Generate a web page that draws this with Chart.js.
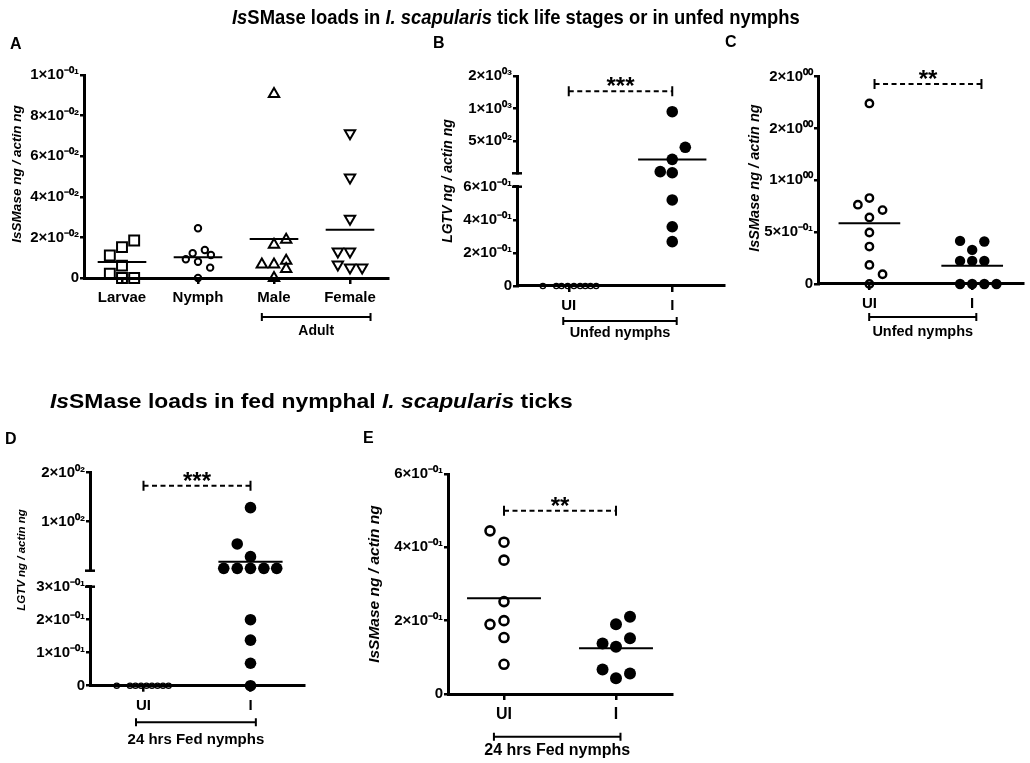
<!DOCTYPE html>
<html><head><meta charset="utf-8">
<script src="https://cdn.jsdelivr.net/npm/chart.js@4.4.0/dist/chart.umd.min.js"></script>
<style>
html,body{margin:0;padding:0;background:#fff;}
#page{position:relative;width:1030px;height:763px;overflow:hidden;background:#fff;font-family:'Liberation Sans',Arial,sans-serif;}
.layer{position:absolute;left:0;top:0;width:1030px;height:763px;}
.txt{position:absolute;white-space:nowrap;font-weight:bold;line-height:1;color:#000;transform-origin:0 0;}
</style></head><body>
<div id="page">
  <div class="layer"><canvas id="cA"></canvas></div>
  <div class="layer"><canvas id="cBlo"></canvas></div>
  <div class="layer"><canvas id="cBup"></canvas></div>
  <div class="layer"><canvas id="cC"></canvas></div>
  <div class="layer"><canvas id="cDlo"></canvas></div>
  <div class="layer"><canvas id="cDup"></canvas></div>
  <div class="layer"><canvas id="cE"></canvas></div>
  <div class="txt" id="t1" data-w="568" style="left:232px;top:6px;font-size:21px;font-family:'Liberation Sans Narrow','Liberation Sans',Arial;"><i>Is</i>SMase loads in <i>I. scapularis</i> tick life stages or in unfed nymphs</div>
  <div class="txt" id="t2" data-w="523" style="left:50px;top:390px;font-size:21px;"><i>Is</i>SMase loads in fed nymphal <i>I. scapularis</i> ticks</div>
  <div class="txt" style="left:10px;top:36px;font-size:16px;">A</div>
  <div class="txt" style="left:433px;top:35px;font-size:16px;">B</div>
  <div class="txt" style="left:725px;top:34px;font-size:16px;">C</div>
  <div class="txt" style="left:5px;top:431px;font-size:16px;">D</div>
  <div class="txt" style="left:363px;top:430px;font-size:16px;">E</div>
</div>
<script>
// ---------------- DATA ----------------
// Panel A
const aCategories = ['Larvae', 'Nymph', 'Male', 'Female'];
const aLarvae = [0.0111, 0.0152, 0.0185, 0.0021, 0.0061, 0, 0];
const aLarvaeJitter = [-0.16, 0, 0.16, -0.16, 0, 0, 0.16];
const aNymph = [0.0245, 0.0122, 0.0138, 0.0092, 0.008, 0.0113, 0.0051, 0];
const aNymphJitter = [0, -0.07, 0.09, -0.16, 0, 0.17, 0.16, 0];
const aMale = [0.0907, 0.0164, 0.0189, 0.0066, 0.0066, 0.0085, 0.0044, 0];
const aMaleJitter = [0, 0, 0.16, -0.16, 0, 0.16, 0.16, 0];
const aFemale = [0.0713, 0.0495, 0.0292, 0.0131, 0.0131, 0.0066, 0.0052, 0.0052];
const aFemaleJitter = [0, 0, 0, -0.16, 0, -0.16, 0, 0.16];
const aMeans = [0.0079, 0.0102, 0.0192, 0.0238];
const aRange = [0, 0.1];
const aTicks = [0, 0.02, 0.04, 0.06, 0.08, 0.1];
const aTickLabels = ['0', '2×10⁻⁰²', '4×10⁻⁰²', '6×10⁻⁰²', '8×10⁻⁰²', '1×10⁻⁰¹'];

// Panel B (broken axis: lower linear, upper logarithmic)
const bCategories = ['UI', 'I'];
const bUI = [0, 0, 0, 0, 0, 0, 0, 0, 0];
const bUIJitter = [-0.25, -0.12, -0.07, -0.01, 0.05, 0.11, 0.16, 0.21, 0.265];
const bI = [933, 436, 337, 259, 253, 0.52, 0.358, 0.268];
const bIJitter = [0, 0.126, 0, -0.116, 0, 0, 0, 0];
const bMeans = [null, 335];
const bLowerRange = [0, 0.6];
const bLowerTicks = [0, 0.2, 0.4, 0.6];
const bLowerLabels = ['0', '2×10⁻⁰¹', '4×10⁻⁰¹', '6×10⁻⁰¹'];
const bUpperRange = [250, 2000];
const bUpperTicks = [500, 1000, 2000];
const bUpperLabels = ['5×10⁰²', '1×10⁰³', '2×10⁰³'];

// Panel C
const cCategories = ['UI', 'I'];
const cUI = [1.742, 0.765, 0.829, 0.713, 0.642, 0.497, 0.361, 0.184, 0.094, 0];
const cUIJitter = [0, -0.112, 0, 0.128, 0, 0, 0, 0, 0.128, 0];
const cI = [0.416, 0.41, 0.329, 0.223, 0.223, 0.223, 0, 0, 0, 0];
const cIJitter = [-0.118, 0.118, 0, -0.118, 0, 0.118, -0.118, 0, 0.118, 0.236];
const cMeans = [0.587, 0.177];
const cRange = [0, 2];
const cTicks = [0, 0.5, 1, 1.5, 2];
const cTickLabels = ['0', '5×10⁻⁰¹', '1×10⁰⁰', '2×10⁰⁰', '2×10⁰⁰'];

// Panel D (broken axis)
const dCategories = ['UI', 'I'];
const dUI = [0, 0, 0, 0, 0, 0, 0, 0, 0];
const dUIJitter = [-0.25, -0.126, -0.075, -0.023, 0.028, 0.079, 0.131, 0.182, 0.234];
const dI = [122, 73, 61, 51.7, 51.7, 51.7, 51.7, 51.7, 0.2, 0.138, 0.068, 0];
const dIJitter = [0, -0.124, 0, -0.25, -0.124, 0, 0.125, 0.245, 0, 0, 0, 0];
const dMeans = [null, 56.8];
const dLowerRange = [0, 0.3];
const dLowerTicks = [0, 0.1, 0.2, 0.3];
const dLowerLabels = ['0', '1×10⁻⁰¹', '2×10⁻⁰¹', '3×10⁻⁰¹'];
const dUpperRange = [50, 200];
const dUpperTicks = [100, 200];
const dUpperLabels = ['1×10⁰²', '2×10⁰²'];

// Panel E
const eCategories = ['UI', 'I'];
const eUI = [0.445, 0.414, 0.365, 0.252, 0.19, 0.2, 0.154, 0.081];
const eUIJitter = [-0.125, 0, 0, 0, -0.125, 0, 0, 0];
const eI = [0.19, 0.211, 0.138, 0.129, 0.152, 0.067, 0.056, 0.043];
const eIJitter = [0, 0.125, -0.12, 0, 0.125, -0.12, 0.125, 0];
const eMeans = [0.261, 0.125];
const eRange = [0, 0.6];
const eTicks = [0, 0.2, 0.4, 0.6];
const eTickLabels = ['0', '2×10⁻⁰¹', '4×10⁻⁰¹', '6×10⁻⁰¹'];

// ---------------- RENDERING ----------------
const FONT = "'Liberation Sans', Arial, sans-serif";
const W = 1030, H = 763, YW = 70, XH = 45;
Chart.defaults.font.family = FONT;
Chart.defaults.color = '#000';
Chart.defaults.animation = false;

function pts(vals, jit, cat, keep) {
  const out = [];
  vals.forEach((v, i) => { if (!keep || keep(v)) out.push({x: cat + jit[i], y: v}); });
  return out;
}
function marker(style, r, bw, filled, rot) {
  return {
    pointStyle: style, pointRadius: r, pointBorderWidth: bw, pointBorderColor: '#000',
    pointBackgroundColor: filled ? '#000' : 'rgba(0,0,0,0)', pointRotation: rot || 0,
    showLine: false, clip: false
  };
}
function meanSets(means, hw, keep) {
  const out = [];
  means.forEach((m, i) => {
    if (m === null || (keep && !keep(m))) return;
    out.push({data: [{x: i + 1 - hw, y: m}, {x: i + 1 + hw, y: m}], showLine: true,
      borderColor: '#000', borderWidth: 2, pointRadius: 0, clip: false});
  });
  return out;
}
function yAxis(o) {
  return {
    type: o.type || 'linear', bounds: 'data', min: o.range[0], max: o.range[1], position: 'left',
    afterFit: s => { s.width = YW; },
    afterBuildTicks: s => { s.ticks = o.ticks.map(v => ({value: v})); },
    border: {display: true, color: '#000', width: 3},
    grid: {display: true, drawOnChartArea: false, drawTicks: true, tickLength: 4, tickWidth: 2.5, tickColor: '#000', color: '#000', lineWidth: 2.5},
    ticks: {autoSkip: false, padding: 1, color: '#000', font: {size: 15, weight: 'bold'}, callback: (v, i) => o.labels[i]}
  };
}
function xAxis(o) {
  return {
    type: 'linear', bounds: 'data', min: o.range[0], max: o.range[1], position: 'bottom', display: o.show,
    afterFit: s => { s.height = o.show ? XH : 0; },
    afterBuildTicks: s => { s.ticks = o.cats.map((c, i) => ({value: i + 1})); },
    border: {display: true, color: '#000', width: 3},
    grid: {display: true, drawOnChartArea: false, drawTicks: true, tickLength: 6, tickWidth: 2.5, tickColor: '#000', color: '#000', lineWidth: 2.5},
    ticks: {autoSkip: false, maxRotation: 0, minRotation: 0, padding: 5, color: '#000', font: {size: o.size || 15, weight: 'bold'}, callback: (v, i) => o.cats[i]}
  };
}
function decor(d) {
  return {
    id: 'decor',
    afterDraw(chart) {
      const ctx = chart.ctx, xs = chart.scales.x, ys = chart.scales.y, ca = chart.chartArea;
      ctx.save();
      ctx.fillStyle = '#000'; ctx.strokeStyle = '#000';
      if (d.sig) {
        const x1 = xs.getPixelForValue(d.sig.from), x2 = xs.getPixelForValue(d.sig.to), y = ys.getPixelForValue(d.sig.y);
        ctx.lineWidth = 2; ctx.setLineDash([5, 3.5]);
        ctx.beginPath(); ctx.moveTo(x1, y); ctx.lineTo(x2, y); ctx.stroke();
        ctx.setLineDash([]);
        ctx.beginPath(); ctx.moveTo(x1, y - 5); ctx.lineTo(x1, y + 5); ctx.moveTo(x2, y - 5); ctx.lineTo(x2, y + 5); ctx.stroke();
        ctx.font = 'bold 24px ' + FONT; ctx.textAlign = 'center'; ctx.textBaseline = 'alphabetic';
        ctx.fillText(d.sig.text, (x1 + x2) / 2, y + 3);
      }
      (d.groups || []).forEach(g => {
        const x1 = xs.getPixelForValue(g.from), x2 = xs.getPixelForValue(g.to), y = ca.bottom + g.dy;
        ctx.lineWidth = 2;
        ctx.beginPath(); ctx.moveTo(x1, y); ctx.lineTo(x2, y);
        ctx.moveTo(x1, y - 4); ctx.lineTo(x1, y + 4); ctx.moveTo(x2, y - 4); ctx.lineTo(x2, y + 4); ctx.stroke();
        ctx.font = 'bold ' + g.size + 'px ' + FONT; ctx.textAlign = 'center'; ctx.textBaseline = 'middle';
        ctx.fillText(g.text, (x1 + x2) / 2, y + g.ty);
      });
      if (d.title) {
        ctx.save();
        ctx.translate(d.title.x, d.title.y); ctx.rotate(-Math.PI / 2);
        ctx.font = 'italic bold ' + d.title.size + 'px ' + FONT; ctx.textAlign = 'center'; ctx.textBaseline = 'middle';
        ctx.fillText(d.title.text, 0, 0);
        ctx.restore();
      }
      if (d.breakCap) {
        const y = d.breakCap === 'bottom' ? ca.bottom : ca.top;
        ctx.lineWidth = 2.5;
        ctx.beginPath(); ctx.moveTo(ca.left - 5, y); ctx.lineTo(ca.left + 5, y); ctx.stroke();
      }
      ctx.restore();
    }
  };
}
function makeChart(id, o) {
  const pad = {left: o.area.l - YW, top: o.area.t, right: W - o.area.r, bottom: H - o.area.b - (o.showX ? XH : 0)};
  return new Chart(document.getElementById(id), {
    type: 'scatter',
    data: {datasets: o.datasets},
    options: {
      responsive: true, maintainAspectRatio: false, animation: false, events: [],
      layout: {padding: pad},
      plugins: {legend: {display: false}, tooltip: {enabled: false}},
      scales: {
        x: xAxis({range: o.xRange, cats: o.cats, show: o.showX, size: o.xSize}),
        y: yAxis(o.y)
      }
    },
    plugins: [decor(o.decor || {})]
  });
}

// Panel A
makeChart('cA', {
  area: {l: 84, t: 75, r: 388, b: 278}, showX: true, xRange: [0.5, 4.5], cats: aCategories,
  y: {range: aRange, ticks: aTicks, labels: aTickLabels},
  datasets: [
    Object.assign({data: pts(aLarvae, aLarvaeJitter, 1)}, marker('rect', 7, 2, false)),
    Object.assign({data: pts(aNymph, aNymphJitter, 2)}, marker('circle', 3.2, 2, false)),
    Object.assign({data: pts(aMale, aMaleJitter, 3)}, marker('triangle', 6, 2, false)),
    Object.assign({data: pts(aFemale, aFemaleJitter, 4)}, marker('triangle', 6, 2, false, 180))
  ].concat(meanSets(aMeans, 0.32)),
  decor: {
    groups: [{from: 2.84, to: 4.27, dy: 39, ty: 14, size: 14, text: 'Adult'}],
    title: {text: 'IsSMase ng / actin ng', x: 17.5, y: 174, size: 13.5}
  }
});

// Panel B lower + upper
const bLowMax = bLowerRange[1];
makeChart('cBlo', {
  area: {l: 517, t: 186.7, r: 724, b: 286}, showX: true, xRange: [0.5, 2.5], cats: bCategories,
  y: {range: bLowerRange, ticks: bLowerTicks, labels: bLowerLabels},
  datasets: [
    Object.assign({data: pts(bUI, bUIJitter, 1, v => v <= bLowMax)}, marker('circle', 2.6, 1.4, false)),
    Object.assign({data: pts(bI, bIJitter, 2, v => v <= bLowMax)}, marker('circle', 5.8, 0, true))
  ].concat(meanSets(bMeans, 0.33, v => v <= bLowMax)),
  decor: {
    groups: [{from: 0.947, to: 2.043, dy: 35, ty: 11.5, size: 14.5, text: 'Unfed nymphs'}],
    title: {text: 'LGTV ng / actin ng', x: 448, y: 181, size: 14},
    breakCap: 'top'
  }
});
makeChart('cBup', {
  area: {l: 517, t: 76, r: 724, b: 173.3}, showX: false, xRange: [0.5, 2.5], cats: bCategories,
  y: {type: 'logarithmic', range: bUpperRange, ticks: bUpperTicks, labels: bUpperLabels},
  datasets: [
    Object.assign({data: pts(bI, bIJitter, 2, v => v > bLowMax)}, marker('circle', 5.8, 0, true))
  ].concat(meanSets(bMeans, 0.33, v => v > bLowMax)),
  decor: {sig: {from: 1, to: 2, y: 1440, text: '***'}, breakCap: 'bottom'}
});

// Panel C
makeChart('cC', {
  area: {l: 818, t: 76.7, r: 1027, b: 284}, showX: true, xRange: [0.5, 2.5], cats: cCategories,
  y: {range: cRange, ticks: cTicks, labels: cTickLabels},
  datasets: [
    Object.assign({data: pts(cUI, cUIJitter, 1)}, marker('circle', 3.7, 2.4, false)),
    Object.assign({data: pts(cI, cIJitter, 2)}, marker('circle', 5.2, 0, true))
  ].concat(meanSets(cMeans, 0.3)),
  decor: {
    sig: {from: 1.05, to: 2.09, y: 1.93, text: '**'},
    groups: [{from: 0.998, to: 2.04, dy: 33, ty: 15, size: 14.5, text: 'Unfed nymphs'}],
    title: {text: 'IsSMase ng / actin ng', x: 755, y: 178, size: 14.5}
  }
});

// Panel D lower + upper
const dLowMax = dLowerRange[1];
makeChart('cDlo', {
  area: {l: 90, t: 586.7, r: 304, b: 685.7}, showX: true, xRange: [0.5, 2.5], cats: dCategories,
  y: {range: dLowerRange, ticks: dLowerTicks, labels: dLowerLabels},
  datasets: [
    Object.assign({data: pts(dUI, dUIJitter, 1, v => v <= dLowMax)}, marker('circle', 2.6, 1.4, false)),
    Object.assign({data: pts(dI, dIJitter, 2, v => v <= dLowMax)}, marker('circle', 5.8, 0, true))
  ].concat(meanSets(dMeans, 0.3, v => v <= dLowMax)),
  decor: {
    groups: [{from: 0.93, to: 2.05, dy: 36.6, ty: 17.5, size: 15, text: '24 hrs Fed nymphs'}],
    title: {text: 'LGTV ng / actin ng', x: 22, y: 560, size: 11.5},
    breakCap: 'top'
  }
});
makeChart('cDup', {
  area: {l: 90, t: 472.7, r: 304, b: 570.7}, showX: false, xRange: [0.5, 2.5], cats: dCategories,
  y: {type: 'logarithmic', range: dUpperRange, ticks: dUpperTicks, labels: dUpperLabels},
  datasets: [
    Object.assign({data: pts(dI, dIJitter, 2, v => v > dLowMax)}, marker('circle', 5.8, 0, true))
  ].concat(meanSets(dMeans, 0.3, v => v > dLowMax)),
  decor: {sig: {from: 1, to: 2, y: 166, text: '***'}, breakCap: 'bottom'}
});

// Panel E
makeChart('cE', {
  area: {l: 448, t: 474, r: 672, b: 694}, showX: true, xRange: [0.5, 2.5], cats: eCategories, xSize: 16,
  y: {range: eRange, ticks: eTicks, labels: eTickLabels},
  datasets: [
    Object.assign({data: pts(eUI, eUIJitter, 1)}, marker('circle', 4.5, 2.6, false)),
    Object.assign({data: pts(eI, eIJitter, 2)}, marker('circle', 6, 0, true))
  ].concat(meanSets(eMeans, 0.33)),
  decor: {
    sig: {from: 1, to: 2, y: 0.5, text: '**'},
    groups: [{from: 0.91, to: 2.04, dy: 42.7, ty: 14, size: 16, text: '24 hrs Fed nymphs'}],
    title: {text: 'IsSMase ng / actin ng', x: 375, y: 584, size: 15.5}
  }
});

// fit title widths
document.querySelectorAll('.txt[data-w]').forEach(el => {
  const w = el.offsetWidth;
  el.style.transform = 'scaleX(' + (parseFloat(el.dataset.w) / w) + ')';
});
</script>
</body></html>
